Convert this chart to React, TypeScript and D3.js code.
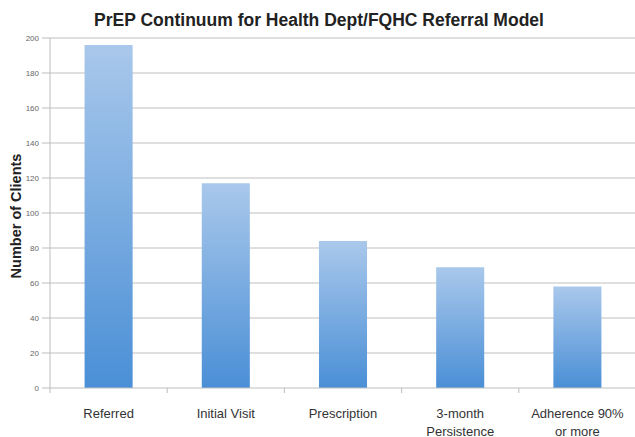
import React from "react";
import * as d3 from "d3";

const categories: string[][] = [
  ["Referred"],
  ["Initial Visit"],
  ["Prescription"],
  ["3-month", "Persistence"],
  ["Adherence 90%", "or more"],
];
const values: number[] = [196, 117, 84, 69, 58];
const yTicks: number[] = [0, 20, 40, 60, 80, 100, 120, 140, 160, 180, 200];
const title = "PrEP Continuum for Health Dept/FQHC Referral Model";
const yTitle = "Number of Clients";

const W = 635;
const H = 437;
const left = 50;
const right = 636;
const top = 38;
const bottom = 388;

export default function App() {
  const x = d3
    .scaleBand<number>()
    .domain(values.map((_, i) => i))
    .range([left, right])
    .paddingInner(0.59)
    .paddingOuter(0.295);
  const y = d3.scaleLinear().domain([0, 200]).range([bottom, top]);
  const step = (right - left) / values.length;
  const font = "'Liberation Sans', Arial, Helvetica, sans-serif";

  return (
    <svg
      width={W}
      height={H}
      style={{ position: "absolute", left: 0, top: 0, background: "#fff" }}
      fontFamily={font}
    >
      <defs>
        <linearGradient id="barGrad" x1="0" y1="0" x2="0" y2="1">
          <stop offset="0" stopColor="#a9c8eb" />
          <stop offset="1" stopColor="#4a8fd6" />
        </linearGradient>
      </defs>
      <rect x={0} y={0} width={W} height={H} fill="#fff" />
      <text
        x={319}
        y={26}
        textAnchor="middle"
        fontSize={17.5}
        fontWeight="bold"
        fill="#222"
      >
        {title}
      </text>
      {yTicks.map((t) => (
        <g key={t}>
          {t > 0 && (
            <line
              x1={left}
              x2={W}
              y1={y(t)}
              y2={y(t)}
              stroke="#d4d4d4"
              strokeWidth={1.3}
            />
          )}
          <line
            x1={left - 8}
            x2={left}
            y1={y(t)}
            y2={y(t)}
            stroke="#bdbdbd"
            strokeWidth={1}
          />
          <text
            x={left - 11}
            y={y(t)}
            dy="0.35em"
            textAnchor="end"
            fontSize={8}
            fill="#666"
          >
            {t}
          </text>
        </g>
      ))}
      <line x1={left} x2={left} y1={top} y2={bottom} stroke="#bdbdbd" strokeWidth={1} />
      {values.map((v, i) => (
        <rect
          key={i}
          x={x(i)}
          y={y(v)}
          width={x.bandwidth()}
          height={bottom - y(v)}
          fill="url(#barGrad)"
        />
      ))}
      <line x1={left} x2={W} y1={bottom} y2={bottom} stroke="#bdbdbd" strokeWidth={1.2} />
      {values.map((_, i) => (
        <line
          key={"t" + i}
          x1={left + step * i}
          x2={left + step * i}
          y1={bottom}
          y2={bottom + 5}
          stroke="#bdbdbd"
        />
      ))}
      {categories.map((lines, i) => (
        <text
          key={"c" + i}
          x={(x(i) as number) + x.bandwidth() / 2}
          y={418}
          textAnchor="middle"
          fontSize={13}
          fill="#333"
        >
          {lines.map((l, j) => (
            <tspan key={j} x={(x(i) as number) + x.bandwidth() / 2} dy={j === 0 ? 0 : 17.5}>
              {l}
            </tspan>
          ))}
        </text>
      ))}
      <text
        transform={`translate(21,${(top + bottom) / 2 + 3}) rotate(-90)`}
        textAnchor="middle"
        fontSize={14.5}
        fontWeight="bold"
        fill="#222"
      >
        {yTitle}
      </text>
    </svg>
  );
}
